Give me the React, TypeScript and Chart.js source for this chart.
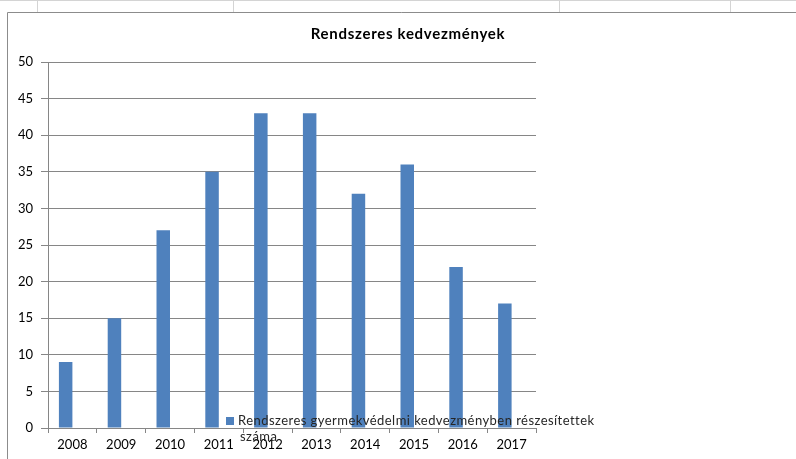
import React, { useEffect, useRef } from "react";
import { Chart, registerables } from "chart.js";

Chart.register(...registerables);

const categories = ["2008", "2009", "2010", "2011", "2012", "2013", "2014", "2015", "2016", "2017"];
const seriesValues = [9, 15, 27, 35, 43, 43, 32, 36, 22, 17];
const emptySeries = [null, null, null, null, null, null, null, null, null, null];
const titleText = "Rendszeres kedvezmények";
const legendLine1 = "Rendszeres gyermekvédelmi kedvezményben részesítettek";
const legendLine2 = "száma";

const BAR_COLOR = "#4F81BD";
const GRID_COLOR = "#868686";
const FONT = "Lato, 'Open Sans', sans-serif";

const framePlugin = {
  id: "frame",
  beforeDraw(chart: any) {
    const ctx = chart.ctx;
    ctx.save();
    ctx.fillStyle = "#ffffff";
    ctx.fillRect(0, 0, chart.width, chart.height);
    // spreadsheet cell lines above the chart object
    ctx.strokeStyle = "#d4d4d4";
    ctx.lineWidth = 1;
    ctx.beginPath();
    [37.5, 233.5, 559.5, 730.5].forEach((x) => {
      ctx.moveTo(x, 0);
      ctx.lineTo(x, 12);
    });
    ctx.moveTo(0, 0.5);
    ctx.lineTo(chart.width, 0.5);
    ctx.stroke();
    // chart object border
    ctx.strokeStyle = "#8c8c8c";
    ctx.beginPath();
    ctx.moveTo(7.5, chart.height);
    ctx.lineTo(7.5, 12.5);
    ctx.lineTo(chart.width, 12.5);
    ctx.stroke();
    ctx.restore();
  },
  afterDraw(chart: any) {
    const ctx = chart.ctx;
    ctx.save();
    // title
    ctx.fillStyle = "#000000";
    ctx.font = `bold 15px ${FONT}`;
    (ctx as any).letterSpacing = "0.7px";
    ctx.textAlign = "center";
    ctx.textBaseline = "alphabetic";
    ctx.fillText(titleText, 408, 39);
    // legend (overlapping the plot, as in the original)
    const ds = chart.data.datasets[0];
    ctx.fillStyle = ds.backgroundColor;
    ctx.fillRect(226, 417, 8, 8);
    ctx.fillStyle = "#262626";
    ctx.font = `13px ${FONT}`;
    (ctx as any).letterSpacing = "0.45px";
    ctx.textAlign = "left";
    ctx.fillText(legendLine1, 238, 425);
    ctx.fillText(legendLine2, 240, 441);
    ctx.restore();
  },
};

export default function App() {
  const ref = useRef<HTMLCanvasElement | null>(null);

  useEffect(() => {
    if (!ref.current) return;
    const chart = new Chart(ref.current, {
      type: "bar",
      data: {
        labels: categories,
        datasets: [
          {
            label: legendLine1 + " " + legendLine2,
            data: seriesValues,
            backgroundColor: BAR_COLOR,
            borderWidth: 0,
          },
          {
            label: "",
            data: emptySeries as any,
            backgroundColor: BAR_COLOR,
            borderWidth: 0,
          },
        ],
      },
      options: {
        responsive: false,
        animation: false,
        devicePixelRatio: 1,
        datasets: {
          bar: { categoryPercentage: 0.553, barPercentage: 1 },
        },
        layout: { padding: { top: 62, left: 0, right: 260, bottom: 0 } },
        plugins: {
          legend: { display: false },
          title: { display: false },
          tooltip: { enabled: false },
        },
        scales: {
          x: {
            afterFit: (s: any) => {
              s.height = 31;
            },
            grid: {
              offset: true,
              drawOnChartArea: false,
              drawTicks: true,
              tickLength: 5,
              color: GRID_COLOR,
            },
            border: { display: true, color: GRID_COLOR },
            ticks: {
              color: "#000000",
              font: { family: FONT, size: 13 },
              padding: 4,
              maxRotation: 0,
            },
          },
          y: {
            min: 0,
            max: 50,
            afterFit: (s: any) => {
              s.width = 48;
            },
            grid: {
              color: GRID_COLOR,
              drawTicks: true,
              tickLength: 7,
            },
            border: { display: true, color: GRID_COLOR },
            ticks: {
              stepSize: 5,
              color: "#000000",
              font: { family: FONT, size: 13 },
              padding: 8,
            },
          },
        },
      },
      plugins: [framePlugin],
    });
    return () => chart.destroy();
  }, []);

  return (
    <div style={{ position: "absolute", left: 0, top: 0, width: 796, height: 459 }}>
      <canvas ref={ref} width={796} height={459} style={{ display: "block" }} />
    </div>
  );
}
